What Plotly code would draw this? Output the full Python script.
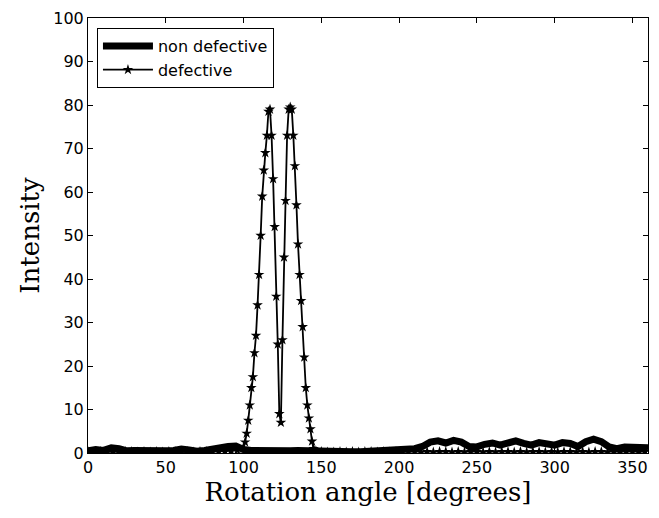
import plotly.graph_objects as go

# non defective: sampled every 5 degrees
nd_angle = list(range(0, 361, 5))
nd_intensity = [
    0.5, 0.8, 0.6, 1.2, 1.0, 0.5, 0.6, 0.5, 0.7, 0.6,
    0.5, 0.6, 0.9, 0.7, 0.4, 0.6, 1.0, 1.3, 1.5, 1.6,
    0.8, 0.6, 0.5, 0.5, 0.6, 0.5, 0.5, 0.6, 0.5, 0.6,
    0.5, 0.4, 0.2, 0.2, 0.3, 0.3, 0.4, 0.5, 0.5, 0.6,
    0.6, 0.7, 1.0, 1.5, 2.5, 2.8, 2.3, 2.9, 2.5, 1.5,
    1.4, 2.0, 2.3, 1.8, 2.2, 2.8, 2.2, 1.8, 2.4, 2.0,
    1.8, 2.4, 2.2, 1.5, 2.6, 3.2, 2.6, 1.4, 1.0, 1.4,
    1.2, 1.0, 1.2,
]

# defective
def_angle = (
    list(range(0, 100, 4))
    + list(range(100, 148))
    + list(range(150, 361, 4))
)
def_base_left = [
    0.3, 0.2, 0.3, 0.2, 0.3, 0.2, 0.3, 0.3, 0.2, 0.3,
    0.2, 0.3, 0.2, 0.3, 0.3, 0.2, 0.3, 0.2, 0.3, 0.3,
    0.3, 0.4, 0.4, 0.5, 0.6,
]
def_peak = [
    1.0, 2.5, 4.5, 7.5, 11, 15, 17.5, 23, 27, 34,
    41, 50, 59, 65, 69, 73, 78.5, 79, 73, 63,
    52, 36, 25, 9, 7, 26, 45, 58, 73, 79,
    79.5, 79, 73, 66, 57, 48, 41, 35, 29, 22,
    15, 11, 8, 5.5, 2.7, 1.0, 0.5, 0.3,
]
def_base_right = [
    0.3, 0.2, 0.2, 0.3, 0.2, 0.3, 0.2, 0.3, 0.3, 0.2,
    0.3, 0.2, 0.3, 0.2, 0.3, 0.3, 0.2, 0.3, 0.2, 0.3,
    0.3, 0.2, 0.3, 0.2, 0.3, 0.3, 0.2, 0.3, 0.2, 0.3,
    0.3, 0.2, 0.3, 0.2, 0.3, 0.3, 0.2, 0.3, 0.2, 0.3,
    0.3, 0.2, 0.3, 0.2, 0.3, 0.3, 0.2, 0.3, 0.2, 0.3,
    0.3, 0.2, 0.3,
]
def_intensity = def_base_left + def_peak + def_base_right

x_ticks = [0, 50, 100, 150, 200, 250, 300, 350]
y_ticks = [0, 10, 20, 30, 40, 50, 60, 70, 80, 90, 100]

fig = go.Figure()
fig.add_trace(
    go.Scatter(
        x=nd_angle,
        y=nd_intensity,
        mode="lines",
        name="non defective",
        line=dict(color="black", width=7),
    )
)
fig.add_trace(
    go.Scatter(
        x=def_angle,
        y=def_intensity,
        mode="lines+markers",
        name="defective",
        line=dict(color="black", width=1.8),
        marker=dict(symbol="star", size=8, color="black"),
    )
)

axis_common = dict(
    showline=True,
    linecolor="black",
    linewidth=1,
    mirror="ticks",
    ticks="inside",
    ticklen=5,
    tickcolor="black",
    showgrid=False,
    zeroline=False,
    automargin=False,
    tickfont=dict(family="DejaVu Sans", size=16, color="black"),
)

fig.update_xaxes(
    range=[0, 360],
    tickvals=x_ticks,
    title=dict(
        text="Rotation angle [degrees]",
        font=dict(family="DejaVu Serif", size=26, color="black"),
        standoff=2,
    ),
    **axis_common,
)
fig.update_yaxes(
    range=[0, 100],
    tickvals=y_ticks,
    title=dict(
        text="Intensity",
        font=dict(family="DejaVu Serif", size=26, color="black"),
        standoff=6,
    ),
    **axis_common,
)

# the page body adds an 8px offset, so margins are shifted to compensate
fig.update_layout(
    width=659,
    height=518,
    margin=dict(l=80, r=19, t=10, b=73),
    plot_bgcolor="white",
    paper_bgcolor="white",
    showlegend=True,
    legend=dict(
        x=0.016,
        y=0.977,
        xanchor="left",
        yanchor="top",
        bgcolor="white",
        bordercolor="black",
        borderwidth=1,
        font=dict(family="DejaVu Sans", size=16, color="black"),
        tracegroupgap=0,
        itemwidth=50,
    ),
)

fig.write_html("out.html")
